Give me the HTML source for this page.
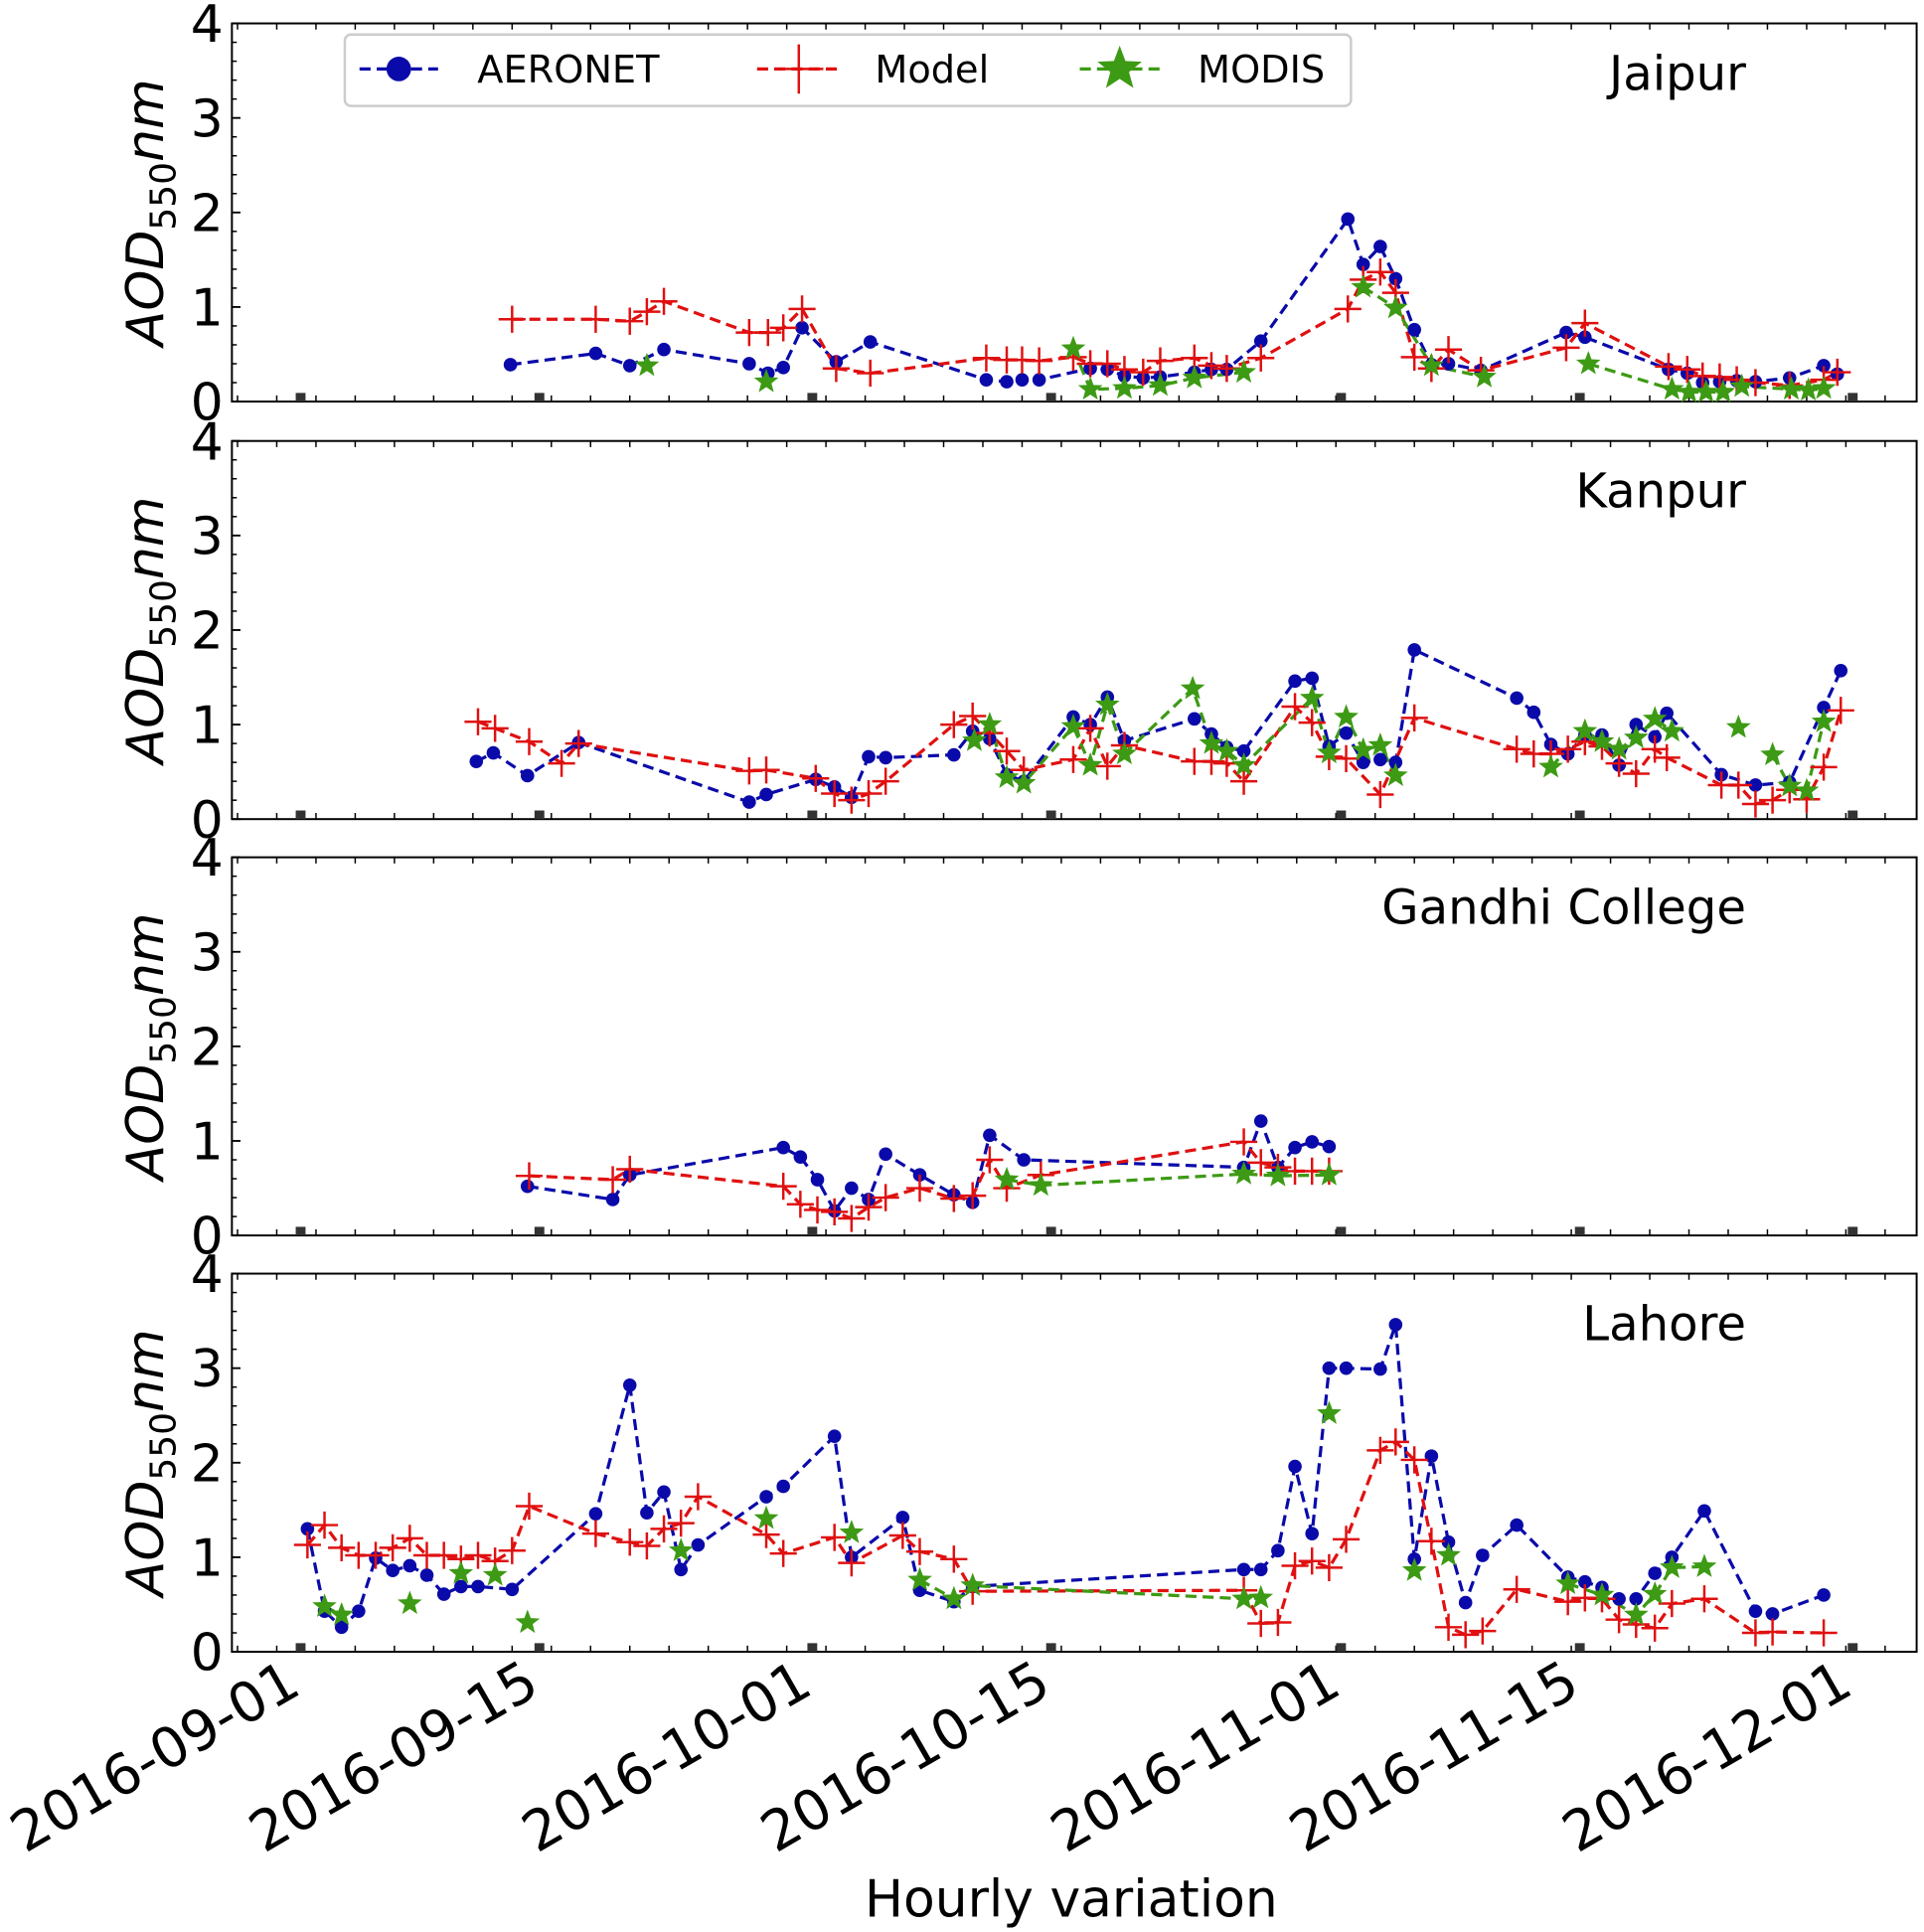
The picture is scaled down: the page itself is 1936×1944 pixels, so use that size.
<!DOCTYPE html>
<html><head><meta charset="utf-8"><style>
html,body{margin:0;padding:0;background:#fff}
svg{display:block}
text{font-family:"DejaVu Sans","Liberation Sans",sans-serif}
</style></head><body>
<svg id="chart" width="1936" height="1944" viewBox="0 0 1568 1568.5" preserveAspectRatio="none" xmlns="http://www.w3.org/2000/svg">
<g id="root"></g>
</svg>
<script>
// ---- data: day offset from 2016-09-01, AOD value (null = gap in line) ----
const dateTicks=["2016-09-01","2016-09-15","2016-10-01","2016-10-15","2016-11-01","2016-11-15","2016-12-01"];
const dateTickDays=[0,14,30,44,61,75,91];
const yTicks=[0,1,2,3,4];
const stations=["Jaipur","Kanpur","Gandhi College","Lahore"];

const jaiAerX=[12.3,17.3,19.3,21.3,26.3,27.4,28.3,29.4,31.4,33.4,40.2,41.4,42.3,43.3,46.3,47.3,48.3,49.4,50.4,52.4,53.4,54.3,56.3,61.4,62.3,63.3,64.2,65.3,66.3,67.3,69.2,74.2,75.3,80.2,81.3,82.2,83.2,84.2,85.3,87.3,89.3,90.1];
const jaiAerY=[0.39,0.51,0.38,0.55,0.40,0.30,0.36,0.78,0.42,0.63,0.23,0.21,0.23,0.23,0.35,0.34,0.27,0.25,0.26,0.31,0.34,0.34,0.64,1.93,1.45,1.64,1.30,0.76,0.39,0.40,0.33,0.73,0.68,0.34,0.30,0.20,0.21,0.22,0.21,0.25,0.38,0.29];
const jaiModX=[12.4,17.3,19.3,20.3,21.3,26.3,27.4,28.3,29.4,31.4,33.4,40.2,41.4,42.3,43.3,45.3,46.3,47.3,48.3,49.4,50.4,52.4,53.4,54.3,56.3,61.4,62.3,63.3,64.2,65.3,66.3,67.3,69.2,74.2,75.3,80.2,81.3,82.2,83.2,84.2,85.3,87.3,89.3,90.1];
const jaiModY=[0.87,0.87,0.85,0.95,1.06,0.73,0.73,0.78,0.98,0.35,0.30,0.46,0.44,0.44,0.43,0.47,0.40,0.40,0.34,0.31,0.43,0.46,0.38,0.35,0.46,0.98,1.29,1.37,1.15,0.47,0.35,0.55,0.33,0.57,0.83,0.37,0.34,0.27,0.26,0.23,0.20,0.17,0.23,0.31];
const jaiModisX=[20.3,null,27.3,null,45.3,46.3,48.3,50.4,52.4,55.3,null,62.3,64.2,66.3,69.4,null,75.5,80.4,81.4,82.4,83.4,84.5,87.4,88.4,89.3];
const jaiModisY=[0.38,null,0.21,null,0.56,0.13,0.14,0.17,0.25,0.31,null,1.21,0.99,0.38,0.26,null,0.40,0.13,0.10,0.10,0.10,0.16,0.13,0.12,0.14];

const kanAerX=[10.3,11.3,13.3,16.3,26.3,27.3,30.2,31.3,32.3,33.3,34.3,38.3,39.4,40.4,41.4,42.4,45.3,46.3,47.3,48.3,52.4,53.4,54.3,55.3,58.3,59.3,60.3,61.3,62.3,63.3,64.2,65.3,71.3,72.3,73.3,74.3,75.3,76.3,77.3,78.3,79.4,80.1,83.3,85.3,87.3,89.3,90.3];
const kanAerY=[0.61,0.70,0.46,0.81,0.18,0.26,0.42,0.34,0.23,0.66,0.65,0.68,0.93,0.85,0.47,0.40,1.08,1.00,1.29,0.83,1.06,0.90,0.76,0.72,1.46,1.49,0.77,0.91,0.60,0.63,0.60,1.79,1.28,1.13,0.79,0.69,0.89,0.89,0.57,1.00,0.87,1.12,0.47,0.36,0.39,1.18,1.57];
const kanModX=[10.4,11.4,13.4,15.3,16.3,26.3,27.3,30.2,31.3,32.3,33.3,34.3,38.3,39.4,40.4,41.4,42.4,45.3,46.3,47.3,48.3,52.4,53.4,54.3,55.3,58.3,59.3,60.3,61.3,63.3,65.3,71.3,72.3,73.3,74.3,75.3,76.3,77.3,78.3,79.4,80.1,83.3,84.3,85.3,86.3,87.3,88.3,89.3,90.3];
const kanModY=[1.03,0.96,0.82,0.59,0.80,0.51,0.52,0.43,0.27,0.20,0.27,0.40,1.00,1.09,0.91,0.72,0.52,0.63,0.96,0.56,0.78,0.61,0.61,0.59,0.40,1.19,1.02,0.66,0.64,0.26,1.07,0.74,0.69,0.69,0.74,0.82,0.77,0.59,0.48,0.74,0.65,0.36,0.36,0.16,0.20,0.31,0.21,0.55,1.15];
const kanModisX=[39.5,40.4,41.4,42.4,45.3,46.3,47.3,48.3,52.3,53.4,54.3,55.3,59.3,60.3,61.3,62.3,63.3,64.2,null,73.3,75.3,76.3,77.3,78.3,79.4,80.4,null,84.3,null,86.3,87.3,88.3,89.3];
const kanModisY=[0.83,1.00,0.44,0.38,0.98,0.57,1.21,0.69,1.38,0.80,0.72,0.57,1.28,0.70,1.08,0.73,0.78,0.46,null,0.55,0.93,0.82,0.74,0.86,1.06,0.93,null,0.97,null,0.68,0.35,0.30,1.03];

const ganAerX=[13.3,18.3,19.3,28.3,29.3,30.3,31.3,32.3,33.3,34.3,36.3,38.3,39.4,40.4,42.4,55.3,56.3,57.3,58.3,59.3,60.3];
const ganAerY=[0.52,0.38,0.64,0.93,0.83,0.59,0.26,0.50,0.38,0.86,0.64,0.43,0.35,1.06,0.80,0.72,1.21,0.72,0.93,0.99,0.94];
const ganModX=[13.4,18.3,19.3,28.3,29.3,30.3,31.3,32.3,33.3,34.3,36.3,38.3,39.4,40.4,41.4,43.4,55.3,56.3,57.3,58.3,59.3,60.3];
const ganModY=[0.63,0.59,0.70,0.52,0.33,0.27,0.25,0.18,0.30,0.40,0.50,0.39,0.42,0.80,0.50,0.64,0.99,0.77,0.72,0.68,0.68,0.68];
const ganModisX=[41.4,43.4,55.3,57.3,60.3];
const ganModisY=[0.59,0.53,0.65,0.63,0.64];

const lahAerX=[0.4,1.4,2.4,3.4,4.4,5.4,6.4,7.4,8.4,9.4,10.4,12.4,17.3,19.3,20.3,21.3,22.3,23.3,27.3,28.3,31.3,32.3,35.3,36.3,38.3,39.4,55.3,56.3,57.3,58.3,59.3,60.3,61.3,63.3,64.2,65.3,66.3,67.3,68.3,69.3,71.3,74.3,75.3,76.3,77.3,78.3,79.4,80.4,82.3,85.3,86.3,89.3];
const lahAerY=[1.30,0.43,0.26,0.43,0.99,0.86,0.91,0.81,0.61,0.69,0.69,0.66,1.46,2.82,1.47,1.69,0.87,1.13,1.64,1.75,2.28,1.00,1.42,0.65,0.53,0.69,0.87,0.87,1.07,1.96,1.25,3.00,3.00,2.99,3.46,0.98,2.07,1.16,0.52,1.02,1.34,0.79,0.74,0.68,0.56,0.56,0.83,1.00,1.49,0.43,0.40,0.60];
const lahModX=[0.4,1.4,2.4,3.4,4.4,5.4,6.4,7.4,8.4,9.4,10.4,11.4,12.4,13.4,17.3,19.3,20.3,21.3,22.3,23.3,27.3,28.3,31.3,32.3,35.3,36.3,38.3,39.4,55.3,56.3,57.3,58.3,59.3,60.3,61.3,63.3,64.2,65.3,66.3,67.3,68.3,69.3,71.3,74.3,75.3,76.3,77.3,78.3,79.4,80.4,82.3,85.3,86.3,89.3];
const lahModY=[1.13,1.34,1.10,1.02,1.02,1.10,1.20,1.02,1.02,0.98,1.02,0.96,1.07,1.54,1.25,1.16,1.12,1.30,1.36,1.64,1.24,1.04,1.21,0.94,1.23,1.06,0.98,0.64,0.65,0.30,0.31,0.91,0.96,0.89,1.19,2.13,2.22,2.03,1.17,0.26,0.18,0.22,0.66,0.53,0.57,0.56,0.34,0.29,0.25,0.51,0.56,0.20,0.21,0.20];
const lahModisX=[1.4,2.4,null,6.4,null,9.4,null,11.4,null,13.3,null,22.3,null,27.3,null,32.3,null,36.3,38.3,39.4,55.3,56.3,null,60.3,null,65.3,null,67.3,null,74.3,76.3,78.3,79.4,80.4,82.3];
const lahModisY=[0.48,0.39,null,0.51,null,0.83,null,0.81,null,0.31,null,1.07,null,1.41,null,1.26,null,0.76,0.56,0.70,0.56,0.57,null,2.52,null,0.86,null,1.02,null,0.72,0.60,0.39,0.61,0.89,0.90];

const panelData=[
 [jaiAerX,jaiAerY,jaiModX,jaiModY,jaiModisX,jaiModisY],
 [kanAerX,kanAerY,kanModX,kanModY,kanModisX,kanModisY],
 [ganAerX,ganAerY,ganModX,ganModY,ganModisX,ganModisY],
 [lahAerX,lahAerY,lahModX,lahModY,lahModisX,lahModisY]];

// ---- layout (in viewBox units) ----
const NS="http://www.w3.org/2000/svg";
const root=document.getElementById('root');
const L=189,R=1562,PH=307,tops=[19,358,696,1034];
const x0=245,pxDay=13.9;
const xs=d=>x0+d*pxDay;
const BLUE="#0a0aaa",RED="#e01010",GREEN="#3d9a14";
function mk(tag,attrs,parent){const e=document.createElementNS(NS,tag);for(const k in attrs)e.setAttribute(k,attrs[k]);(parent||root).appendChild(e);return e;}
function starPts(cx,cy,r){let p=[];for(let i=0;i<10;i++){const a=-Math.PI/2+i*Math.PI/5;const rr=i%2?r*0.42:r;p.push((cx+rr*Math.cos(a)).toFixed(1)+","+(cy+rr*Math.sin(a)).toFixed(1));}return p.join(" ");}

tops.forEach((top,pi)=>{
  const bot=top+PH;
  const ys=v=>bot-v*PH/4;
  const g=mk('g',{});
  
  
  const frame=mk('rect',{x:L,y:top,width:R-L,height:PH,fill:'none',stroke:'#000','stroke-width':1.6},g);
  
  
  yTicks.forEach(v=>{
    mk('line',{x1:L,x2:L+7,y1:ys(v),y2:ys(v),stroke:'#000','stroke-width':1.5},g);
    const t=mk('text',{x:L-7,y:ys(v)+15,'text-anchor':'end','font-size':42,fill:'#000'},g);
    t.textContent=v;
    
    
    if(v<4)for(let k=1;k<5;k++){const yy=ys(v+k*0.2);mk('line',{x1:L,x2:L+4,y1:yy,y2:yy,stroke:'#000','stroke-width':1.2},g);}
  });
  for(let d=-3.7;d<95;d+=2.3){const xx=xs(d);if(xx<=L||xx>=R)continue;
    mk('line',{x1:xx,x2:xx,y1:bot,y2:bot-5,stroke:'#000','stroke-width':1.2},g);
    mk('line',{x1:xx,x2:xx,y1:top,y2:top+5,stroke:'#000','stroke-width':1.2},g);}
  dateTickDays.forEach(d=>{mk('rect',{x:xs(d)-4,y:bot-7,width:8,height:7,fill:'#333'},g);});
  const yl=mk('text',{transform:`translate(133,${top+PH/2}) rotate(-90)`,'text-anchor':'middle','font-size':42,fill:'#000'},g);
  yl.innerHTML='<tspan font-style="italic">AOD</tspan><tspan font-size="29" dy="10">550</tspan><tspan font-style="italic" dy="-10">nm</tspan>';
  
  
  const st=mk('text',{x:1423,y:top+54,'text-anchor':'end','font-size':39,fill:'#000'},g);
  st.textContent=stations[pi];
  
  
  const [ax,ay,mx,my,sx,sy]=panelData[pi];
  const series=[[ax,ay,BLUE,'aeronet'],[mx,my,RED,'model'],[sx,sy,GREEN,'modis']];
  series.forEach(([X,Y,c,nm])=>{
    let segs=[[]];
    X.forEach((d,i)=>{ if(d===null||Y[i]===null){segs.push([]);return;} segs[segs.length-1].push(xs(d).toFixed(1)+","+ys(Y[i]).toFixed(1)); });
    segs.filter(s=>s.length>1).forEach(s=>{
      const pl=mk('polyline',{points:s.join(" "),fill:'none',stroke:c,'stroke-width':2.6,'stroke-dasharray':'9,5'},g);
      
      
    });
  });
  series.forEach(([X,Y,c,nm])=>{
    X.forEach((d,i)=>{
      if(d===null||Y[i]===null)return;
      const cx=xs(d),cy=ys(Y[i]);let m;
      if(nm==='aeronet')m=mk('circle',{cx:cx,cy:cy,r:5.5,fill:c},g);
      else if(nm==='model')m=mk('path',{d:`M${cx-11},${cy}H${cx+11}M${cx},${cy-11}V${cy+11}`,stroke:c,'stroke-width':2,fill:'none'},g);
      else m=mk('polygon',{points:starPts(cx,cy,10.5),fill:c},g);
      
      
    });
  });
});

dateTicks.forEach((lab,i)=>{
  const t=mk('text',{transform:`translate(${xs(dateTickDays[i])+2},1374) rotate(-30)`,'text-anchor':'end','font-size':45,fill:'#000'});
  t.textContent=lab;
  
  
});
const xl=mk('text',{x:873,y:1556,'text-anchor':'middle','font-size':42,fill:'#000'});
xl.textContent='Hourly variation';



const lg=mk('g',{});


mk('rect',{x:281,y:28,width:820,height:58,rx:5,fill:'#fff',stroke:'#ccc','stroke-width':2},lg);
const ly=56;
[[293,357,BLUE,'AERONET',389,'aeronet'],[617,685,RED,'Model',713,'model'],[880,945,GREEN,'MODIS',976,'modis']].forEach(([a,b,c,lab,tx,nm])=>{
  const e=mk('g',{},lg);
  
  
  mk('line',{x1:a,x2:b,y1:ly,y2:ly,stroke:c,'stroke-width':2.6,'stroke-dasharray':'9,5'},e);
  const m=(a+b)/2;
  if(nm==='aeronet')mk('circle',{cx:m,cy:ly,r:10,fill:c},e);
  else if(nm==='model')mk('path',{d:`M${m-20},${ly}H${m+20}M${m},${ly-20}V${ly+20}`,stroke:c,'stroke-width':2},e);
  else mk('polygon',{points:starPts(m,ly,19),fill:c},e);
  const t=mk('text',{x:tx,y:ly+11,'font-size':31,fill:'#000'},e);
  t.textContent=lab;
});
</script>
</body></html>
